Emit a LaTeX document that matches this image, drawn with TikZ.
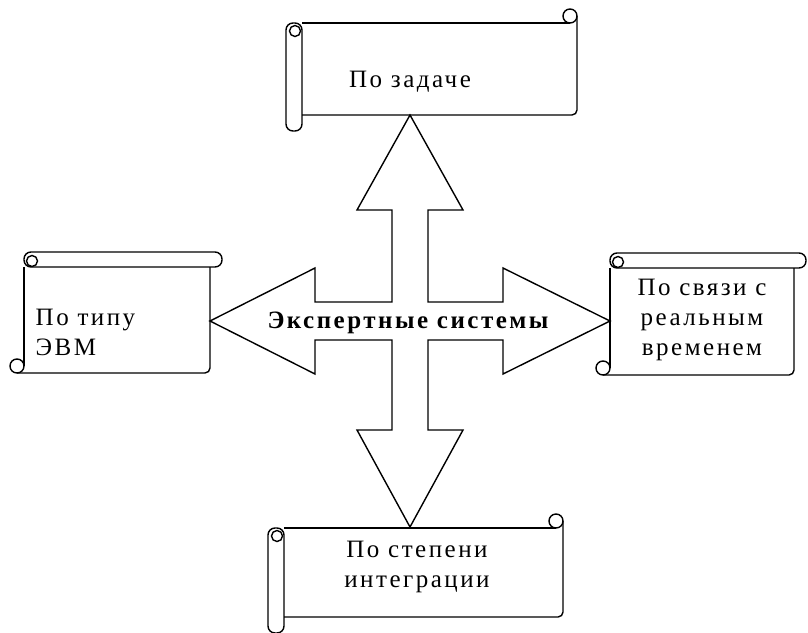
\documentclass[tikz,border=0pt]{standalone}
\usepackage{fontspec}
\setmainfont{Liberation Serif}
\newfontfamily\scrollfont[LetterSpace=10]{Liberation Serif}

\newcommand\hscroll[4]{% left, top, width, height
  \begin{scope}[shift={(#1,#2)}]
    \draw[rounded corners=7] (0,0) rectangle (16,#4+16);
    \draw (9,8) circle (5.5);
    \draw (16,0) -- (#3-7,0);
    \draw (#3-7,-7) circle (7);
    \draw[rounded corners=5] (16,#4) -- (#3,#4) -- (#3,-7);
  \end{scope}}
\newcommand\vscroll[4]{% left, top, width, height
  \begin{scope}[shift={(#1,#2)}]
    \draw[rounded corners=7] (0,0) rectangle (#3,15);
    \draw (8,9) circle (5.5);
    \draw (0,15) -- (0,#4-7);
    \draw (-7,#4-7) circle (7);
    \draw[rounded corners=5] (-7,#4) -- (#3-12,#4) -- (#3-12,15);
  \end{scope}}

\begin{document}
\begin{tikzpicture}[x=1pt,y=-1pt,line width=1.4pt,
  scrolltext/.style={font=\scrollfont\fontsize{25}{30}\selectfont,inner sep=0pt}]
  \useasboundingbox (0,0) rectangle (808,632);
  \hscroll{286}{23}{291}{92}
  \hscroll{268}{528}{295}{89}
  \vscroll{24}{252}{198}{121}
  \vscroll{610}{253}{196}{122}
  \draw (410,115) -- (463,210) -- (428,210) -- (428,302) -- (503,302) -- (503,268)
    -- (610,321) -- (503,374) -- (503,340) -- (428,340) -- (428,430) -- (463,430)
    -- (410,527) -- (357,430) -- (392,430) -- (392,340) -- (315,340) -- (315,374)
    -- (210,321) -- (315,268) -- (315,302) -- (392,302) -- (392,210) -- (357,210) -- cycle;
  \node[scrolltext,anchor=north] (zadacha) at (410,70) {По задаче};
  \node[scrolltext,align=left,anchor=north west] (evm) at (35,308) {По типу\\ЭВМ};
  \node[scrolltext,align=center,anchor=north] (vremya) at (702,278) {По связи с\\реальным\\временем};
  \node[scrolltext,align=center,anchor=north] (integr) at (417,540) {По степени\\интеграции};
  \node[scrolltext,anchor=base] (es) at (408,328) {\bfseries Экспертные системы};
\end{tikzpicture}
\end{document}
